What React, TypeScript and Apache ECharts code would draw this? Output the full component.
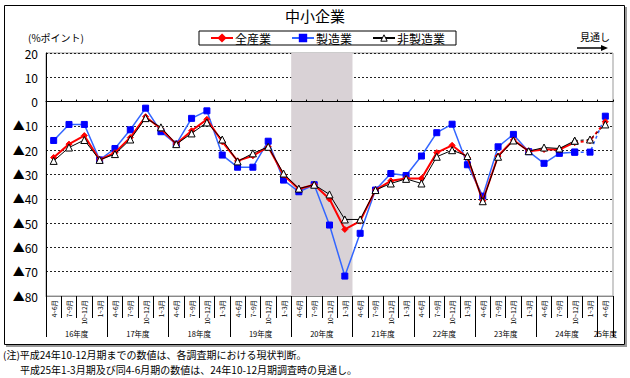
import React, { useEffect, useRef } from "react";
import * as echarts from "echarts";

const fiscalYears = ["16年度", "17年度", "18年度", "19年度", "20年度", "21年度", "22年度", "23年度", "24年度", "25年度"];
const quarters = ["4~6月", "7~9月", "10~12月", "1~3月"];
const quarterCounts = [4, 4, 4, 4, 4, 4, 4, 4, 4, 1];
const shadedYear = "20年度";
const lastActualIndex = 34;

const allIndustries = [-23, -17.5, -14, -24, -21, -14.8, -6.2, -11.2, -17.5, -12, -7.3, -16.5, -24.4, -22.3, -18.6, -30.2, -36, -34.2, -40.1, -52.6, -49.2, -36.4, -32.6, -31.6, -31.6, -21, -18, -23, -40.8, -22.4, -15.8, -20.4, -19.7, -19.7, -16.8, -16.1, -8.3];
const manufacturing = [-16, -9.4, -9.4, -24, -19.3, -11.6, -2.7, -12.4, -17.5, -6.9, -3.8, -22, -27, -27, -16.3, -32.3, -37.1, -34.2, -50.8, -71.8, -54.2, -36.4, -29.6, -30.4, -22.4, -12.8, -9.3, -26, -38.9, -18.6, -13.5, -20.6, -25.4, -21.3, -20.8, -20.8, -6];
const nonManufacturing = [-24.4, -18.9, -15.8, -24, -21.6, -15.6, -6.8, -10.6, -17.5, -13.1, -8.6, -15.6, -24.6, -21.3, -18.6, -29.6, -35.8, -34.2, -38.2, -48.5, -48.5, -36.4, -33.7, -31.8, -33.7, -22.7, -20, -22.4, -41, -22.7, -16, -20.4, -18.9, -19.3, -16.1, -15.6, -9.4];

const yTicks = { min: -80, max: 20, interval: 10 };
const noteLines = [
  "(注)平成24年10-12月期までの数値は、各調査期における現状判断。",
  "平成25年1-3月期及び同4-6月期の数値は、24年10-12月期調査時の見通し。",
];

const FONT = "'Noto Sans CJK JP', sans-serif";

export default function App() {
  const ref = useRef<HTMLDivElement>(null);
  useEffect(() => {
    if (!ref.current) return;
    const chart = echarts.init(ref.current, null, { renderer: "svg" });

    const categories = fiscalYears.flatMap((_, i) => quarters.slice(0, quarterCounts[i]));
    const starts: number[] = [];
    let acc = 0;
    quarterCounts.forEach((c) => { starts.push(acc); acc += c; });
    const total = acc;
    const centers = quarterCounts.map((c, i) => starts[i] + c / 2);
    const shadeIdx = fiscalYears.indexOf(shadedYear);

    const solid = (arr: number[]) => arr.map((v, i) => (i <= lastActualIndex ? v : null));
    const dashed = (arr: number[]) => arr.map((v, i) => (i >= lastActualIndex ? v : null));

    const defs = [
      { name: "製造業", data: manufacturing, line: "#3366ff", fill: "#0000ff", border: "#0000ff", symbol: "rect", size: 6, width: 1.5 },
      { name: "全産業", data: allIndustries, line: "#ff0000", fill: "#ff0000", border: "#ff0000", symbol: "diamond", size: 6, width: 2 },
      { name: "非製造業", data: nonManufacturing, line: "#000000", fill: "#ffffff", border: "#000000", symbol: "triangle", size: 7, width: 1 },
    ];

    const series: any[] = [
      {
        type: "line",
        name: "shade",
        xAxisIndex: 1,
        yAxisIndex: 0,
        data: [],
        z: 1,
        silent: true,
        markArea: {
          silent: true,
          itemStyle: { color: "#d9d2d6" },
          data: [[{ xAxis: starts[shadeIdx] }, { xAxis: starts[shadeIdx] + quarterCounts[shadeIdx] }]],
        },
      },
    ];
    defs.forEach((d, k) => {
      const common = {
        type: "line",
        xAxisIndex: 0,
        yAxisIndex: 0,
        symbol: d.symbol,
        symbolSize: d.size,
        showAllSymbol: true,
        itemStyle: { color: d.fill, borderColor: d.border, borderWidth: 1 },
        z: 4 + k,
      };
      series.push({ ...common, name: d.name, data: solid(d.data), lineStyle: { color: d.line, width: d.width, type: "solid" } });
      series.push({ ...common, name: d.name + "見通し", data: dashed(d.data), lineStyle: { color: d.line, width: d.width, type: [3, 3] } });
    });

    const option: any = {
      animation: false,
      textStyle: { fontFamily: FONT },
      title: {
        text: "中小企業",
        left: "center",
        top: 3,
        textStyle: { fontSize: 15, fontWeight: "normal", color: "#000", fontFamily: FONT },
      },
      legend: {
        data: [
          { name: "全産業" },
          { name: "製造業" },
          { name: "非製造業", itemStyle: { color: "#fff", borderColor: "#000", borderWidth: 1 } },
        ],
        left: 199,
        top: 31,
        padding: [1, 11, 1, 11],
        itemGap: 20,
        itemWidth: 22,
        itemHeight: 8,
        borderColor: "#000",
        borderWidth: 1,
        backgroundColor: "#fff",
        textStyle: { fontSize: 12, color: "#000", fontFamily: FONT, padding: [0, 0, 0, -3] },
      },
      grid: {
        left: 46,
        top: 53,
        right: 17,
        bottom: 82,
        show: true,
        borderColor: "#999",
        borderWidth: 1,
        backgroundColor: "transparent",
      },
      xAxis: [
        {
          type: "category",
          data: categories,
          position: "bottom",
          boundaryGap: true,
          axisLine: { onZero: false, lineStyle: { color: "#888", width: 1 } },
          axisTick: { show: true, interval: 0, length: 22, lineStyle: { color: "#000" } },
          axisLabel: { interval: 0, rotate: 90, fontSize: 6.5, color: "#000", margin: 4, fontFamily: FONT },
          splitLine: { show: false },
        },
        {
          type: "value",
          min: 0,
          max: total,
          interval: 0.5,
          position: "bottom",
          axisLine: { show: false, onZero: false },
          axisTick: { show: false },
          splitLine: { show: false },
          axisLabel: {
            margin: 34,
            fontSize: 7.5,
            color: "#000",
            fontFamily: FONT,
            showMinLabel: true,
            showMaxLabel: true,
            formatter: (v: number) => {
              const i = centers.findIndex((c) => Math.abs(c - v) < 1e-6);
              return i >= 0 ? fiscalYears[i] : "";
            },
          },
        },
        {
          type: "category",
          data: categories,
          position: "bottom",
          boundaryGap: true,
          z: 6,
          axisLine: { show: true, onZero: true, onZeroAxisIndex: 0, lineStyle: { color: "#000", width: 1 } },
          axisTick: { show: true, inside: true, interval: 0, length: 2, lineStyle: { color: "#000" } },
          axisLabel: { show: false },
          splitLine: { show: false },
        },
        {
          type: "value",
          min: 0,
          max: total,
          interval: 4,
          position: "bottom",
          axisLine: { show: false, onZero: false },
          axisTick: { show: true, length: 41, lineStyle: { color: "#000" } },
          axisLabel: { show: false },
          splitLine: { show: false },
        },
      ],
      yAxis: {
        type: "value",
        min: yTicks.min,
        max: yTicks.max,
        interval: yTicks.interval,
        axisLine: { show: true, onZero: false, lineStyle: { color: "#000" } },
        axisTick: { show: false },
        axisLabel: {
          fontSize: 12,
          color: "#000",
          margin: 8,
          fontFamily: FONT,
          formatter: (v: number) => (v < 0 ? "▲" + -v : String(v)),
        },
        splitLine: { show: true, lineStyle: { color: "#222", type: [2, 2], width: 1 } },
      },
      graphic: [
        { type: "polyline", z: -2, shape: { points: [[626, 7], [626, 346], [6, 346]] }, style: { stroke: "#999", fill: "none", lineWidth: 2 } },
        { type: "rect", z: -1, shape: { x: 4.5, y: 5.5, width: 620, height: 339 }, style: { stroke: "#000", fill: "none", lineWidth: 1 } },
        { type: "text", left: 28, top: 32, style: { text: "(%ポイント)", fontSize: 10, fill: "#000", fontFamily: FONT } },
        { type: "text", left: 580, top: 31, style: { text: "見通し", fontSize: 10, fill: "#000", fontFamily: FONT } },
        { type: "line", shape: { x1: 577, y1: 48, x2: 602, y2: 48 }, style: { stroke: "#000", lineWidth: 1.5 } },
        { type: "polygon", shape: { points: [[601, 45], [608, 48], [601, 51]] }, style: { fill: "#000" } },
        { type: "text", left: 3, top: 349, style: { text: noteLines[0], fontSize: 10, fill: "#000", fontFamily: FONT } },
        { type: "text", left: 20, top: 364, style: { text: noteLines[1], fontSize: 10, fill: "#000", fontFamily: FONT } },
      ],
      series,
    };
    chart.setOption(option);
    return () => chart.dispose();
  }, []);
  return <div ref={ref} style={{ position: "fixed", left: 0, top: 0, width: 630, height: 378, background: "#fff" }} />;
}
